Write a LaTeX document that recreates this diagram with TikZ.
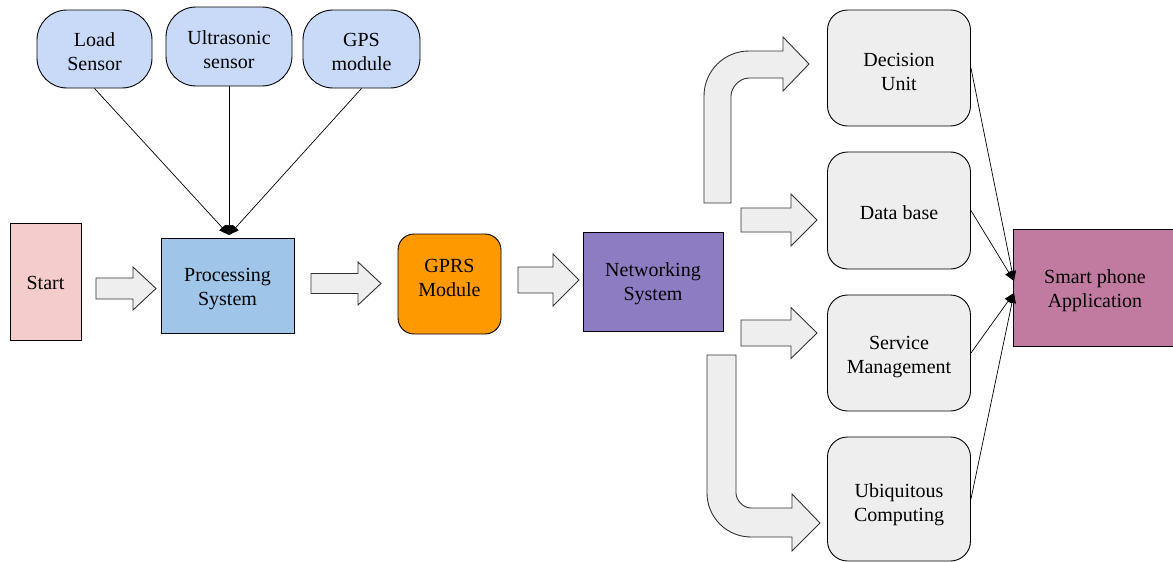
\documentclass[tikz,border=0pt]{standalone}
\usepackage{fontspec}
\setmainfont{Liberation Serif}
\usetikzlibrary{arrows.meta}

\definecolor{sensorblue}{HTML}{C9DAF8}
\definecolor{startpink}{HTML}{F4CCCC}
\definecolor{procblue}{HTML}{9FC5E8}
\definecolor{gprsorange}{HTML}{FF9900}
\definecolor{netpurple}{HTML}{8E7CC3}
\definecolor{paleGrey}{HTML}{EEEEEE}
\definecolor{smartmauve}{HTML}{C27BA0}
\definecolor{inkgrey}{HTML}{333333}

% straight block arrow: x start, x of head base, x of tip, y centre, shaft half-width, head half-width
\newcommand\fatarrow[6]{%
  \path[blockarrow] (#1,#4-#5) -- (#2,#4-#5) -- (#2,#4-#6) -- (#3,#4)
    -- (#2,#4+#6) -- (#2,#4+#5) -- (#1,#4+#5) -- cycle;}

\begin{document}
\begin{tikzpicture}[x=1pt,y=-1pt,
  box/.style={draw=black, line width=0.9pt, inner sep=0pt},
  caption/.style={font=\fontsize{20}{24}\selectfont, align=center, text=black, inner sep=0pt},
  sensor/.style={box, fill=sensorblue, rounded corners=30pt},
  greybox/.style={box, fill=paleGrey, rounded corners=20pt, minimum width=143pt},
  blockarrow/.style={draw=inkgrey, fill=paleGrey, line width=0.9pt, line join=miter},
  link/.style={draw=black, line width=0.7pt, -{Triangle[length=10pt,width=8pt]}}]
\useasboundingbox (0,0) rectangle (1173,562);

% sensors
\node[sensor, minimum width=115pt, minimum height=78pt] (load)  at (94.5,49)  {};
\node[sensor, minimum width=126pt, minimum height=79pt] (ultra) at (229,46.5) {};
\node[sensor, minimum width=117pt, minimum height=78pt] (gps)   at (361.5,49) {};
\node[caption] (load-t)  at (94.5,52)  {Load\\Sensor};
\node[caption] (ultra-t) at (229,49.5) {Ultrasonic\\sensor};
\node[caption] (gps-t)   at (361.5,52) {GPS\\module};

% main chain
\node[box, fill=startpink, minimum width=71pt, minimum height=117pt] (start) at (45.5,281.5) {};
\node[box, fill=procblue, minimum width=133pt, minimum height=95pt] (proc) at (227.5,285.5) {};
\node[box, fill=gprsorange, rounded corners=16pt, minimum width=103pt, minimum height=100pt] (gprs) at (449.5,284) {};
\node[box, fill=netpurple, minimum width=140pt, minimum height=99pt] (net) at (653,281.5) {};
\node[caption] (start-t) at (45.5,283)  {Start};
\node[caption] (proc-t)  at (227.5,289) {Processing\\System};
\node[caption] (gprs-t)  at (449.5,278) {GPRS\\Module};
\node[caption] (net-t)   at (653,284)   {Networking\\System};

% services
\node[greybox, minimum height=116pt] (dec) at (899,68)    {};
\node[greybox, minimum height=117pt] (db)  at (899,210.5) {};
\node[greybox, minimum height=116pt] (svc) at (899,353)   {};
\node[greybox, minimum height=124pt] (ubi) at (899,499)   {};
\node[caption] (dec-t) at (899,71.5)  {Decision\\Unit};
\node[caption] (db-t)  at (899,212.5) {Data base};
\node[caption] (svc-t) at (899,357)   {Service\\Management};
\node[caption] (ubi-t) at (899,505)   {Ubiquitous\\Computing};

\node[box, fill=smartmauve, minimum width=160pt, minimum height=117pt] (smart) at (1093,287.5) {};
\node[caption] (smart-t) at (1095,291) {Smart phone\\Application};

% sensor links into the processing system
\coordinate (ptop) at (229,235);
\draw[link] (load.south)  -- (ptop);
\draw[link] (ultra.south) -- (ptop);
\draw[link] (gps.south)   -- (ptop);

% service links into the application
\coordinate (appA) at (1014,281);
\coordinate (appB) at (1014,293);
\draw[link] (dec.east) -- (appA);
\draw[link] (db.east)  -- (appA);
\draw[link] (svc.east) -- (appB);
\draw[link] (ubi.east) -- (appB);

% straight block arrows
\fatarrow{96}{133}{156}{288.5}{10.5}{21.5}
\fatarrow{311}{358}{381}{283.5}{10}{21.5}
\fatarrow{518}{553}{579}{280}{13}{26}
\fatarrow{741}{791}{817}{220}{12}{26}
\fatarrow{741}{791}{817}{333}{13}{25.5}

% bent block arrow up to the decision unit
\path[blockarrow] (704,203) -- (704,96)
  .. controls (704,71.1) and (724.1,51) .. (749,51)
  -- (783,51) -- (783,37) -- (809,64) -- (783,91) -- (783,78) -- (749,78)
  .. controls (739.1,78) and (731,87.9) .. (731,96)
  -- (731,203) -- cycle;

% bent block arrow down to ubiquitous computing
\path[blockarrow] (707,355) -- (707,493)
  .. controls (707,517.3) and (726.7,537) .. (751,537)
  -- (792,537) -- (792,551) -- (820,523) -- (792,494) -- (792,508) -- (751,508)
  .. controls (742.7,508) and (736,499.7) .. (736,493)
  -- (736,355) -- cycle;
\end{tikzpicture}
\end{document}
